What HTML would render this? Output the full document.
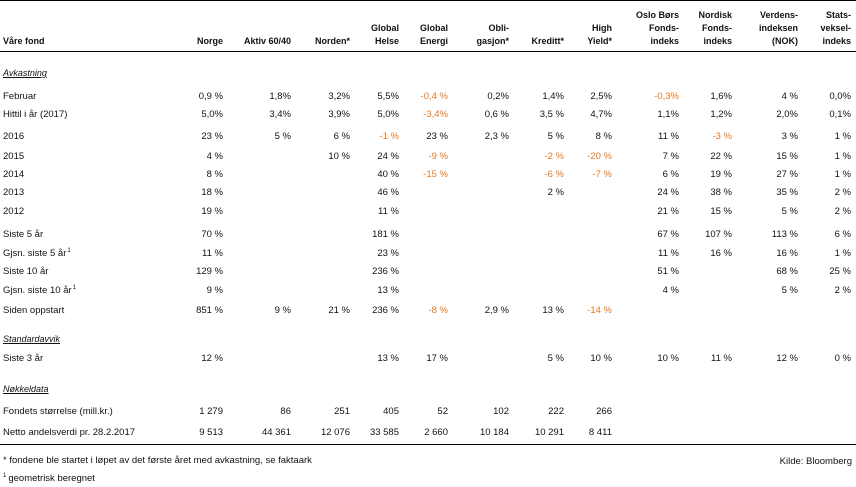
<!DOCTYPE html>
<html><head><meta charset="utf-8"><style>
body{margin:0;width:856px;height:487px;background:#fff;font-family:"Liberation Sans",sans-serif;font-size:9.5px;color:#111;position:relative;overflow:hidden}
.t{position:absolute;white-space:nowrap;line-height:12px}
.r{text-align:right}
.h{font-weight:bold;font-size:9px;line-height:13px;text-align:right}
.neg{color:#e8771e}
.sec{font-style:italic;text-decoration:underline;font-size:9px}
.line{position:absolute;left:0;width:856px;height:1px;background:#000}
.sp{font-size:6px;position:relative;top:-4px;line-height:0;margin-left:1px}
</style></head><body>
<div class="line" style="top:0"></div>
<div class="line" style="top:51px"></div>
<div class="line" style="top:444px"></div>
<div id="tbl"></div>
<div class="t" style="left:3px;top:455px">* fondene ble startet i løpet av det første året med avkastning, se faktaark</div>
<div class="t" style="left:3px;top:473px"><span class="sp" style="margin:0 2px 0 0">1</span>geometrisk beregnet</div>
<div class="t" style="right:4px;top:456px">Kilde: Bloomberg</div>
<script>
const colRight=[223,291,350,399,448,509,564,612,679,732,798,851];
const headers=[["Norge"],["Aktiv 60/40"],["Norden*"],["Global","Helse"],["Global","Energi"],["Obli-","gasjon*"],["Kreditt*"],["High","Yield*"],["Oslo Børs","Fonds-","indeks"],["Nordisk","Fonds-","indeks"],["Verdens-","indeksen","(NOK)"],["Stats-","veksel-","indeks"]];
const sections=[["Avkastning",73],["Standardavvik",339],["Nøkkeldata",389]];
const rowLabels=["Februar","Hittil i år (2017)","2016","2015","2014","2013","2012","Siste 5 år","Gjsn. siste 5 år¹","Siste 10 år","Gjsn. siste 10 år¹","Siden oppstart","Siste 3 år","Fondets størrelse (mill.kr.)","Netto andelsverdi pr. 28.2.2017"];
const rowY=[97,115,137,157,175,193,212,235,254,272,291,311,359,412,433];
const rowValues=[
["0,9 %","1,8%","3,2%","5,5%","-0,4 %","0,2%","1,4%","2,5%","-0,3%","1,6%","4 %","0,0%"],
["5,0%","3,4%","3,9%","5,0%","-3,4%","0,6 %","3,5 %","4,7%","1,1%","1,2%","2,0%","0,1%"],
["23 %","5 %","6 %","-1 %","23 %","2,3 %","5 %","8 %","11 %","-3 %","3 %","1 %"],
["4 %","","10 %","24 %","-9 %","","-2 %","-20 %","7 %","22 %","15 %","1 %"],
["8 %","","","40 %","-15 %","","-6 %","-7 %","6 %","19 %","27 %","1 %"],
["18 %","","","46 %","","","2 %","","24 %","38 %","35 %","2 %"],
["19 %","","","11 %","","","","","21 %","15 %","5 %","2 %"],
["70 %","","","181 %","","","","","67 %","107 %","113 %","6 %"],
["11 %","","","23 %","","","","","11 %","16 %","16 %","1 %"],
["129 %","","","236 %","","","","","51 %","","68 %","25 %"],
["9 %","","","13 %","","","","","4 %","","5 %","2 %"],
["851 %","9 %","21 %","236 %","-8 %","2,9 %","13 %","-14 %","","","",""],
["12 %","","","13 %","17 %","","5 %","10 %","10 %","11 %","12 %","0 %"],
["1 279","86","251","405","52","102","222","266","","","",""],
["9 513","44 361","12 076","33 585","2 660","10 184","10 291","8 411","","","",""]];
const tbl=document.getElementById('tbl');
function mk(cls,txt,css){const d=document.createElement('div');d.className='t '+cls;d.textContent=txt;d.style.cssText=css;tbl.appendChild(d);return d;}
const hl=mk('h','Våre fond','left:3px;top:35px;text-align:left');


headers.forEach((h,i)=>{
  const d=mk('h','', 'right:'+(856-colRight[i])+'px;top:'+(48-13*h.length)+'px');
  d.innerHTML=h.join('<br>');
  
  
});
sections.forEach(s=>{
  const d=mk('sec',s[0],'left:3px;top:'+(s[1]-6)+'px');
  
  
});
rowLabels.forEach((lab,r)=>{
  const y=rowY[r]-6;
  const l=mk('',lab.replace('¹',''),'left:3px;top:'+y+'px');
  if(lab.includes('¹')){const s=document.createElement('span');s.className='sp';s.textContent='1';l.appendChild(s);}
  
  
  rowValues[r].forEach((v,c)=>{
    if(!v)return;
    const d=mk('r'+(v[0]==='-'?' neg':''),v,'right:'+(856-colRight[c])+'px;top:'+y+'px');
    
    
  });
});
</script>
</body></html>
